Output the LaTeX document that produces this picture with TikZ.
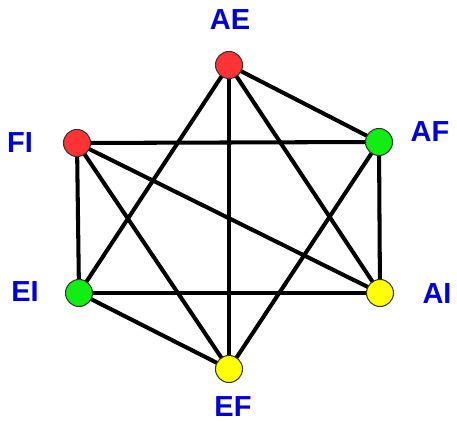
\documentclass[tikz,border=0pt]{standalone}
\usepackage{fontspec}
\setsansfont{Liberation Sans}
\usetikzlibrary{positioning,backgrounds}
\definecolor{vred}{HTML}{FF3333}
\definecolor{vgreen}{HTML}{11EE11}
\definecolor{vyellow}{HTML}{FFFF00}
\definecolor{tagblue}{HTML}{0000DD}
\definecolor{rimgray}{HTML}{333333}
\tikzset{
  vertex/.style={circle, draw=rimgray, line width=0.6pt, minimum size=0.54cm, inner sep=0pt},
  tag/.style={text=tagblue, font=\sffamily\bfseries\fontsize{16.5}{19}\selectfont, inner sep=0pt},
  edge/.style={line width=2.3pt, black}
}
\begin{document}
\begin{tikzpicture}
  \useasboundingbox (0,0) rectangle (9.14,8.46);
  % vertices
  \node[vertex, fill=vred]    (AE) at (4.58,7.16) {};
  \node[vertex, fill=vred]    (FI) at (1.54,5.60) {};
  \node[vertex, fill=vgreen]  (AF) at (7.58,5.62) {};
  \node[vertex, fill=vgreen]  (EI) at (1.58,2.60) {};
  \node[vertex, fill=vyellow] (AI) at (7.60,2.60) {};
  \node[vertex, fill=vyellow] (EF) at (4.58,1.08) {};
  % edges
  \begin{scope}[on background layer]
    \foreach \a/\b in {AE/AF,AE/AI,AE/EF,AE/EI,FI/AF,FI/AI,FI/EI,FI/EF,AF/EF,AF/AI,EI/AI,EI/EF}
      \draw[edge] (\a.center) -- (\b.center);
  \end{scope}
  % labels
  \node[tag] (tAE) at (4.60,8.06) {AE};
  \node[tag] (tAF) at (8.60,5.82) {AF};
  \node[tag] (tFI) at (0.40,5.60) {FI};
  \node[tag] (tEI) at (0.50,2.62) {EI};
  \node[tag] (tAI) at (8.74,2.58) {AI};
  \node[tag] (tEF) at (4.66,0.32) {EF};
\end{tikzpicture}
\end{document}
